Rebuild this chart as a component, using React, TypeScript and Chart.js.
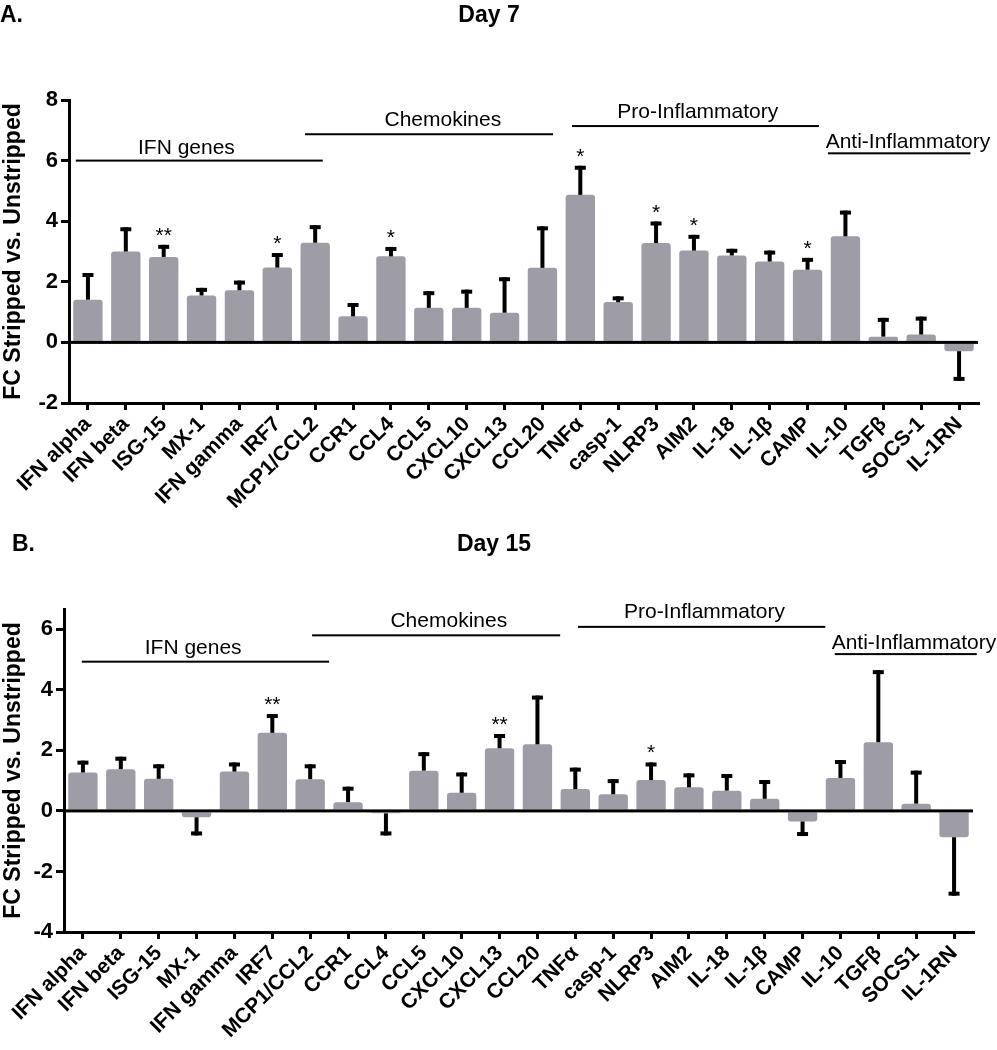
import React, { useEffect, useRef } from "react";
import { Chart, registerables } from "chart.js";

Chart.register(...registerables);

const FONT = "'Liberation Sans', Arial, Helvetica, sans-serif";

// ---------- Data ----------
const categoriesA = ["IFN alpha", "IFN beta", "ISG-15", "MX-1", "IFN gamma", "IRF7", "MCP1/CCL2", "CCR1", "CCL4", "CCL5", "CXCL10", "CXCL13", "CCL20", "TNFα", "casp-1", "NLRP3", "AIM2", "IL-18", "IL-1β", "CAMP", "IL-10", "TGFβ", "SOCS-1", "IL-1RN"];
const categoriesB = ["IFN alpha", "IFN beta", "ISG-15", "MX-1", "IFN gamma", "IRF7", "MCP1/CCL2", "CCR1", "CCL4", "CCL5", "CXCL10", "CXCL13", "CCL20", "TNFα", "casp-1", "NLRP3", "AIM2", "IL-18", "IL-1β", "CAMP", "IL-10", "TGFβ", "SOCS1", "IL-1RN"];

const valuesA = [1.41, 3.0, 2.82, 1.55, 1.72, 2.47, 3.29, 0.86, 2.84, 1.14, 1.14, 0.98, 2.46, 4.87, 1.33, 3.28, 3.03, 2.87, 2.67, 2.4, 3.5, 0.19, 0.26, -0.29];
const errorsA = [0.88, 0.8, 0.4, 0.25, 0.32, 0.48, 0.58, 0.44, 0.31, 0.55, 0.6, 1.17, 1.37, 0.96, 0.19, 0.71, 0.52, 0.22, 0.36, 0.39, 0.85, 0.62, 0.59, 0.98];
const starsA = ["", "", "**", "", "", "*", "", "", "*", "", "", "", "", "*", "", "*", "*", "", "", "*", "", "", "", ""];

const valuesB = [1.27, 1.38, 1.06, -0.21, 1.3, 2.58, 1.05, 0.29, -0.08, 1.33, 0.6, 2.07, 2.2, 0.72, 0.55, 1.02, 0.78, 0.67, 0.4, -0.35, 1.09, 2.27, 0.24, -0.87];
const errorsB = [0.39, 0.41, 0.48, 0.6, 0.3, 0.62, 0.49, 0.51, 0.73, 0.61, 0.67, 0.47, 1.61, 0.71, 0.5, 0.58, 0.46, 0.55, 0.62, 0.48, 0.59, 2.38, 1.09, 1.93];
const starsB = ["", "", "", "", "", "**", "", "", "", "", "", "**", "", "", "", "*", "", "", "", "", "", "", "", ""];

const yTicksA = [-2, 0, 2, 4, 6, 8];
const yTicksB = [-4, -2, 0, 2, 4, 6];

const groupNames = ["IFN genes", "Chemokines", "Pro-Inflammatory", "Anti-Inflammatory"];
// bracket spans (category index units) and heights (y units)
const groupRangesA = [[-0.32, 6.2], [5.73, 12.28], [12.78, 19.3], [19.54, 23.3]];
const groupLineYA = [6.0, 6.87, 7.14, 6.24];
const groupLabelXA = [2.6, 9.37, 16.1, 21.65];
const groupLabelYA = [6.22, 7.14, 7.39, 6.4];

const groupRangesB = [[-0.03, 6.5], [6.05, 12.6], [13.07, 19.6], [19.85, 23.6]];
const groupLineYB = [4.93, 5.8, 6.08, 5.18];
const groupLabelXB = [2.91, 9.66, 16.41, 21.94];
const groupLabelYB = [5.18, 6.08, 6.36, 5.35];

const yTitle = "FC Stripped vs. Unstripped";

type PanelProps = {
  id: string;
  labels: string[];
  values: number[];
  errors: number[];
  stars: string[];
  yTicks: number[];
  yMax: number;
  ranges: number[][];
  lineY: number[];
  labelX: number[];
  labelY: number[];
  areaLeft: number;
  areaRight: number;
  areaTop: number;
  areaBottom: number;
  height: number;
};

function Panel(p: PanelProps) {
  const ref = useRef<HTMLCanvasElement | null>(null);
  useEffect(() => {
    if (!ref.current) return;
    const overlay = {
      id: "overlay" + p.id,
      afterDatasetsDraw(chart: any) {
        const { ctx, chartArea, scales } = chart;
        const xs = scales.x;
        const ys = scales.y;
        ctx.save();
        ctx.fillStyle = "#000";
        const y0 = ys.getPixelForValue(0);
        ctx.fillRect(chartArea.left, y0 - 1.5, chartArea.right - chartArea.left, 3);
        const meta = chart.getDatasetMeta(0);
        p.values.forEach((v, i) => {
          const x = meta.data[i].x;
          const sign = v >= 0 ? 1 : -1;
          const yv = ys.getPixelForValue(v);
          const ye = ys.getPixelForValue(v + sign * p.errors[i]);
          ctx.fillRect(x - 2, Math.min(yv, ye), 4, Math.abs(ye - yv));
          if (sign > 0) ctx.fillRect(x - 5.5, ye, 11, 4);
          else ctx.fillRect(x - 5.5, ye - 4, 11, 4);
          if (p.stars[i]) {
            ctx.font = `21px ${FONT}`;
            ctx.textAlign = "center";
            ctx.textBaseline = "alphabetic";
            ctx.fillText(p.stars[i], x, ye - 3);
          }
        });
        ctx.font = `21px ${FONT}`;
        ctx.textAlign = "center";
        ctx.textBaseline = "alphabetic";
        groupNames.forEach((name, g) => {
          const x1 = xs.getPixelForValue(p.ranges[g][0]);
          const x2 = xs.getPixelForValue(p.ranges[g][1]);
          const ly = ys.getPixelForValue(p.lineY[g]);
          ctx.fillRect(x1, ly - 1, x2 - x1, 2);
          ctx.fillText(name, xs.getPixelForValue(p.labelX[g]), ys.getPixelForValue(p.labelY[g]));
        });
        ctx.restore();
      },
    };
    const chart = new Chart(ref.current, {
      type: "bar",
      data: {
        labels: p.labels,
        datasets: [
          {
            data: p.values,
            backgroundColor: "#9e9da5",
            borderWidth: 0,
            borderRadius: 3,
            borderSkipped: "start",
            barPercentage: 0.775,
            categoryPercentage: 1,
          } as any,
        ],
      },
      options: {
        responsive: false,
        animation: false,
        layout: { padding: { left: 0, top: p.areaTop, right: 997 - p.areaRight, bottom: 0 } },
        plugins: { legend: { display: false }, tooltip: { enabled: false }, title: { display: false } },
        scales: {
          x: {
            offset: true,
            grid: { display: true, offset: false, drawOnChartArea: false, drawTicks: true, tickLength: 7, lineWidth: 3, color: "#000" },
            border: { display: true, width: 3, color: "#000" },
            ticks: {
              autoSkip: false,
              minRotation: 45,
              maxRotation: 45,
              color: "#000",
              padding: 2,
              font: { family: FONT, size: 21, weight: "bold" },
            },
            afterFit: (s: any) => {
              s.height = p.height - p.areaBottom;
            },
          },
          y: {
            min: p.yTicks[0],
            max: p.yMax,
            afterBuildTicks: (s: any) => {
              s.ticks = p.yTicks.map((v) => ({ value: v }));
            },
            grid: { display: true, drawOnChartArea: false, drawTicks: true, tickLength: 8, lineWidth: 3, color: "#000" },
            border: { display: true, width: 3, color: "#000" },
            ticks: { color: "#000", padding: 3, font: { family: FONT, size: 22, weight: "bold" } },
            title: {
              display: true,
              text: yTitle,
              color: "#000",
              padding: { top: 0, bottom: 0 },
              font: { family: FONT, size: 23, weight: "bold" },
            },
            afterFit: (s: any) => {
              s.width = p.areaLeft;
            },
          },
        },
      } as any,
      plugins: [overlay],
    });
    return () => chart.destroy();
  }, []);
  return <canvas ref={ref} width={997} height={p.height} style={{ display: "block", width: 997, height: p.height }} />;
}

const titleStyle: React.CSSProperties = {
  position: "absolute",
  fontFamily: FONT,
  fontWeight: "bold",
  fontSize: 23,
  lineHeight: "26px",
  color: "#000",
  whiteSpace: "nowrap",
};

export default function App() {
  return (
    <div style={{ position: "absolute", left: 0, top: 0, width: 997, height: 1050, background: "#fff", overflow: "hidden" }}>
      <div style={{ position: "absolute", left: 0, top: 0 }}>
        <Panel
          id="A"
          labels={categoriesA}
          values={valuesA}
          errors={errorsA}
          stars={starsA}
          yTicks={yTicksA}
          yMax={8}
          ranges={groupRangesA}
          lineY={groupLineYA}
          labelX={groupLabelXA}
          labelY={groupLabelYA}
          areaLeft={69}
          areaRight={978}
          areaTop={100}
          areaBottom={403}
          height={525}
        />
      </div>
      <div style={{ position: "absolute", left: 0, top: 525 }}>
        <Panel
          id="B"
          labels={categoriesB}
          values={valuesB}
          errors={errorsB}
          stars={starsB}
          yTicks={yTicksB}
          yMax={6.67}
          ranges={groupRangesB}
          lineY={groupLineYB}
          labelX={groupLabelXB}
          labelY={groupLabelYB}
          areaLeft={64}
          areaRight={973}
          areaTop={84}
          areaBottom={407}
          height={525}
        />
      </div>
      <div style={{ ...titleStyle, left: 0, top: 1 }}>A.</div>
      <div style={{ ...titleStyle, left: 489, top: 1, transform: "translateX(-50%)" }}>Day 7</div>
      <div style={{ ...titleStyle, left: 12, top: 530 }}>B.</div>
      <div style={{ ...titleStyle, left: 494, top: 530, transform: "translateX(-50%)" }}>Day 15</div>
    </div>
  );
}
